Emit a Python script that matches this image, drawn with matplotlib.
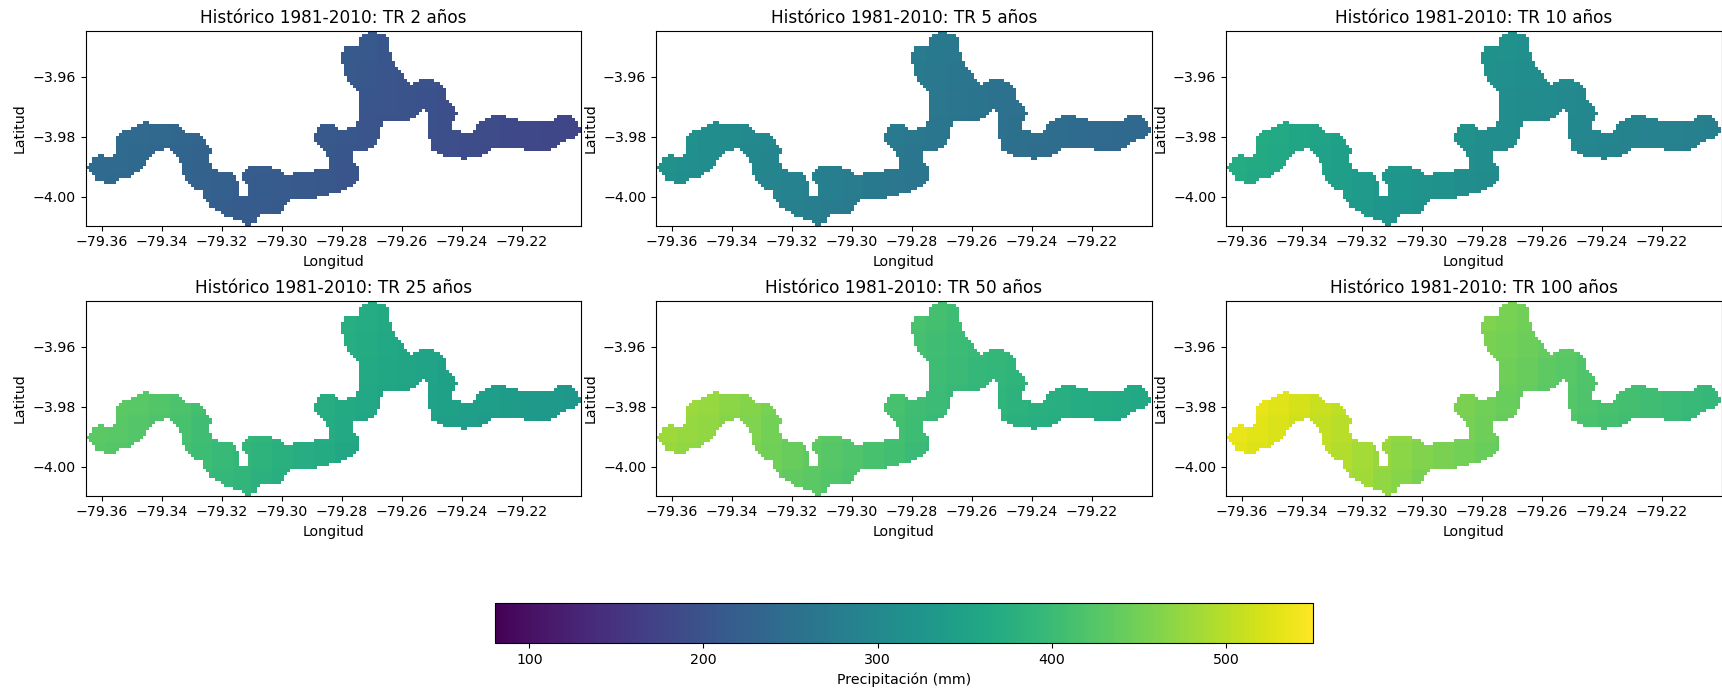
import numpy as np
import matplotlib
matplotlib.use('Agg')
import matplotlib.pyplot as plt

plt.rcParams['font.size'] = 10.15

W, H = 1722, 692

titles = ['Histórico 1981-2010: TR 2 años', 'Histórico 1981-2010: TR 5 años', 'Histórico 1981-2010: TR 10 años',
          'Histórico 1981-2010: TR 25 años', 'Histórico 1981-2010: TR 50 años', 'Histórico 1981-2010: TR 100 años']

# grid cells of the basin, one line per latitude (north to south): (first col, last col + 1)
rows = [
    [(94, 97)], [(92, 100)], [(91, 101)], [(91, 101)], [(91, 101)],
    [(86, 101)], [(86, 101)], [(85, 102)], [(85, 102)], [(85, 102)],
    [(85, 103)], [(86, 103)], [(86, 104)], [(86, 105)], [(86, 106)],
    [(87, 106)], [(87, 107), (111, 116)], [(88, 108), (109, 118)], [(89, 119)], [(90, 120)],
    [(91, 120)], [(91, 120)], [(91, 120)], [(91, 121)], [(91, 122)],
    [(91, 123)], [(91, 112), (113, 123)], [(91, 111), (114, 124)],
    [(91, 110), (114, 123), (135, 140), (157, 162)],
    [(91, 108), (114, 123), (133, 144), (156, 163)],
    [(19, 21), (90, 99), (114, 122), (131, 164)],
    [(17, 31), (78, 83), (90, 99), (114, 122), (130, 164)],
    [(15, 32), (77, 84), (87, 98), (114, 122), (130, 165)],
    [(12, 33), (77, 98), (114, 125), (129, 165)],
    [(11, 38), (76, 98), (114, 164)],
    [(10, 39), (76, 98), (114, 163)],
    [(10, 40), (76, 97), (115, 160)],
    [(10, 40), (77, 97), (115, 158)],
    [(10, 41), (78, 96), (115, 157)],
    [(10, 26), (28, 42), (79, 94), (115, 135), (146, 155)],
    [(10, 23), (29, 42), (80, 89), (117, 134)],
    [(4, 6), (9, 22), (30, 41), (80, 89), (119, 132)],
    [(2, 21), (31, 41), (81, 89), (125, 127)],
    [(2, 20), (31, 41), (81, 89)],
    [(1, 20), (32, 42), (81, 90)],
    [(0, 19), (32, 42), (54, 62), (81, 91)],
    [(1, 18), (32, 44), (53, 65), (76, 91)],
    [(2, 16), (32, 49), (52, 66), (69, 91)],
    [(3, 15), (33, 50), (52, 91)],
    [(3, 11), (33, 50), (52, 91)],
    [(6, 10), (34, 51), (53, 90)],
    [(35, 51), (54, 89)],
    [(36, 51), (54, 87)],
    [(39, 51), (54, 85)],
    [(39, 51), (54, 81)],
    [(39, 77)],
    [(40, 68)],
    [(41, 67)],
    [(41, 66)],
    [(43, 66)],
    [(45, 65)],
    [(46, 58)],
    [(49, 57)],
    [(52, 57)],
    [(53, 55)],
]
n_cols = 165
lon0 = -79.3653
lat0 = -3.9448
cell = 0.001

# precipitation by band of longitude, west to east
tr2 = [245, 242, 240, 237, 233, 229, 225, 221, 218, 216, 213, 210, 207, 204, 201, 198, 195, 192, 189, 187, 184, 182, 180, 179]
tr5 = [318, 315, 311, 306, 301, 296, 291, 287, 283, 279, 275, 271, 267, 264, 261, 258, 254, 251, 249, 246, 243, 241, 238, 237]
tr10 = [372, 368, 364, 359, 353, 347, 341, 336, 331, 326, 321, 316, 311, 308, 305, 302, 299, 296, 293, 291, 289, 286, 283, 281]
tr25 = [435, 431, 427, 422, 416, 409, 403, 397, 390, 384, 378, 372, 366, 361, 357, 353, 350, 347, 344, 341, 338, 335, 333, 331]
tr50 = [485, 480, 475, 469, 462, 454, 447, 440, 433, 427, 420, 413, 405, 400, 395, 390, 386, 382, 378, 374, 370, 367, 364, 362]
tr100 = [538, 533, 527, 519, 511, 503, 495, 485, 476, 468, 462, 456, 449, 443, 437, 430, 424, 418, 413, 409, 405, 401, 397, 393]
series = [tr2, tr5, tr10, tr25, tr50, tr100]
# north to south the values drop a little
lat_factor = [1.025, 1.015, 1.008, 1.0, 0.992, 0.985, 0.975]

lon_ticks = [-79.36, -79.34, -79.32, -79.30, -79.28, -79.26, -79.24, -79.22]
lat_ticks = [-3.96, -3.98, -4.00]
vmin, vmax = 80, 550

n_rows = len(rows)
lon_edges = lon0 + cell * np.arange(n_cols + 1)
lat_edges = lat0 - cell * np.arange(n_rows + 1)

mask = np.ones((n_rows, n_cols), dtype=bool)
for i, spans in enumerate(rows):
    for a, b in spans:
        mask[i, a:b] = False

lefts = [85.7, 656, 1226]
tops = [31, 301]
aw, ah = 495.5, 194.5

fig = plt.figure(figsize=(W / 100, H / 100), dpi=100)
for k, vals in enumerate(series):
    ax = fig.add_axes([lefts[k % 3] / W, 1 - (tops[k // 3] + ah) / H, aw / W, ah / H])
    col_vals = np.array(vals, dtype=float)[np.arange(n_cols) * len(vals) // n_cols]
    row_fac = np.array(lat_factor)[np.arange(n_rows) * len(lat_factor) // n_rows]
    field = np.ma.array(np.outer(row_fac, col_vals), mask=mask)
    im = ax.pcolormesh(lon_edges, lat_edges, field, cmap='viridis', vmin=vmin, vmax=vmax)
    ax.set_xlim(lon0, lon0 + aw / 3 * 0.001)
    ax.set_ylim(lat0 - ah / 3 * 0.001, lat0)
    ax.set_xticks(lon_ticks)
    ax.set_yticks(lat_ticks)
    ax.set_title(titles[k])
    ax.set_xlabel('Longitud')
    ax.set_ylabel('Latitud')

cax = fig.add_axes([494.5 / W, 1 - 643.3 / H, 818.5 / W, 40.3 / H])
fig.colorbar(im, cax=cax, orientation='horizontal', label='Precipitación (mm)', ticks=[100, 200, 300, 400, 500])
fig.savefig('out.png', dpi=100)
